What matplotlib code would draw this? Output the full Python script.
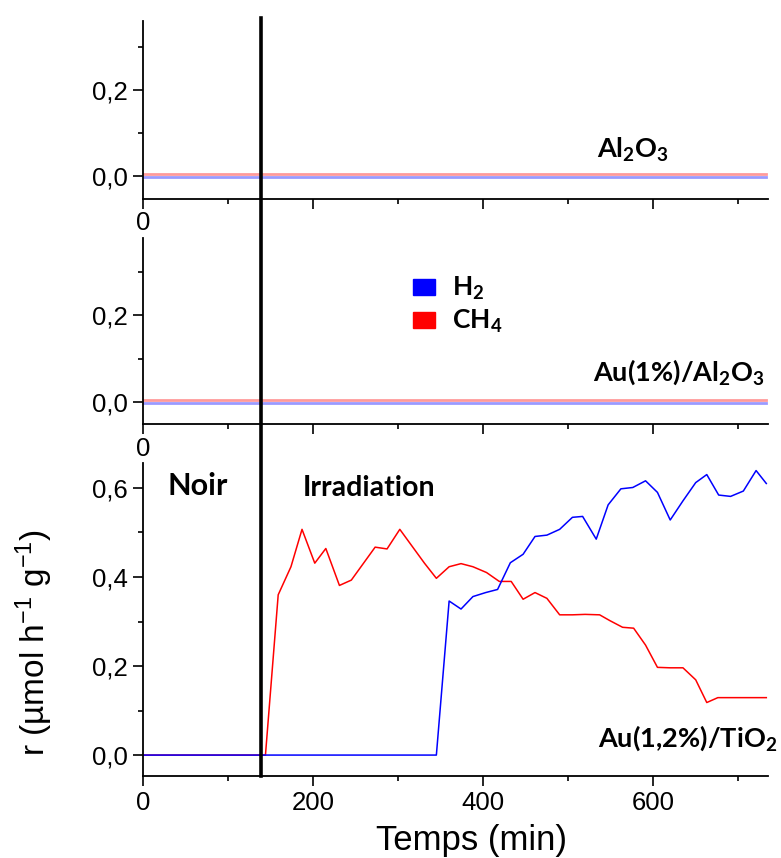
import numpy as np
import matplotlib.pyplot as plt
from matplotlib.patches import Patch
from matplotlib.ticker import MultipleLocator
import matplotlib.transforms as mtransforms

plt.rcParams['font.family'] = ['Liberation Sans', 'DejaVu Sans']
plt.rcParams['mathtext.default'] = 'regular'

# Au(1,2%)/TiO2 : vitesse de production (umol h-1 g-1) vs temps (min)
t_h2 = [0, 345, 360, 374, 388, 403, 417, 432, 447, 461, 475, 490, 505, 517, 533,
        547, 562, 576, 591, 605, 620, 635, 650, 663, 677, 691, 706, 721, 733]
r_h2 = [0, 0, 0.346, 0.328, 0.356, 0.365, 0.372, 0.432, 0.451, 0.491, 0.494, 0.507,
        0.534, 0.536, 0.485, 0.562, 0.598, 0.601, 0.616, 0.590, 0.528, 0.571, 0.612,
        0.630, 0.584, 0.581, 0.593, 0.639, 0.610]

t_ch4 = [0, 144, 159, 174, 187, 202, 215, 231, 245, 273, 287, 302, 331, 345, 360,
         374, 388, 404, 419, 433, 447, 461, 475, 490, 505, 520, 537, 549, 564, 577,
         591, 605, 620, 635, 650, 663, 676, 691, 706, 721, 733]
r_ch4 = [0, 0, 0.360, 0.423, 0.507, 0.431, 0.464, 0.381, 0.393, 0.467, 0.463, 0.507,
         0.431, 0.397, 0.423, 0.430, 0.423, 0.410, 0.390, 0.390, 0.350, 0.365, 0.352,
         0.315, 0.315, 0.316, 0.315, 0.302, 0.287, 0.285, 0.247, 0.197, 0.196, 0.196,
         0.169, 0.118, 0.129, 0.129, 0.129, 0.129, 0.129]

# Al2O3 et Au(1%)/Al2O3 : aucune production
t_zero = [0, 733]
r_zero = [0, 0]

t_irr = 139  # debut de l'irradiation

fig = plt.figure(figsize=(7.81, 8.58), dpi=100)
W = 781.0
H = 858.0

def px_axes(x0, y0, x1, y1):
    return fig.add_axes([x0 / W, (H - y1) / H, (x1 - x0) / W, (y1 - y0) / H])

ax1 = px_axes(143, 21, 768, 199)
ax2 = px_axes(143, 238, 768, 424)
ax3 = px_axes(143, 463, 768, 776)

lims = [(-0.053, 0.36), (-0.05, 0.377), (-0.047, 0.656)]
for ax, yl in zip([ax1, ax2, ax3], lims):
    ax.set_xlim(0, 735)
    ax.set_ylim(*yl)
    ax.spines['top'].set_visible(False)
    ax.spines['right'].set_visible(False)
    ax.spines['left'].set_linewidth(1.3)
    ax.spines['bottom'].set_linewidth(1.3)
    ax.xaxis.set_major_locator(MultipleLocator(200))
    ax.xaxis.set_minor_locator(MultipleLocator(100))
    ax.yaxis.set_major_locator(MultipleLocator(0.2))
    ax.yaxis.set_minor_locator(MultipleLocator(0.1))
    ax.tick_params(which='major', length=7, width=1.2, labelsize=18.5, pad=4)
    ax.tick_params(which='minor', length=3.6, width=1.2)
    ax.yaxis.set_major_formatter(plt.FuncFormatter(lambda v, p: f'{v:.1f}'.replace('.', ',')))

for ax in [ax1, ax2]:
    ax.xaxis.set_major_formatter(plt.FuncFormatter(lambda v, p: '0' if v == 0 else ''))
    ax.tick_params(axis='x', pad=2)
    ax.plot(t_zero, np.array(r_zero) + 0.004, color='#ff9a9a', lw=2)
    ax.plot(t_zero, np.array(r_zero) - 0.002, color='#9a9aff', lw=2)

ax3.plot(t_ch4, r_ch4, color='red', lw=1.1)
ax3.plot(t_h2, r_h2, color='blue', lw=1.1)
ax3.set_xlabel('Temps (min)', fontsize=25)
ax3.xaxis.set_label_coords(0.525, -0.152)
ax3.set_ylabel('r (µmol h$^{-1}$ g$^{-1}$)', fontsize=24)
ax3.yaxis.set_label_coords(-0.141, 0.428)

# ligne verticale : debut irradiation
tr = mtransforms.blended_transform_factory(ax3.transData, fig.transFigure)
fig.add_artist(plt.Line2D([t_irr, t_irr], [(H - 18) / H, (H - 776) / H],
                          transform=tr, color='black', lw=2.6))

lab = dict(family=['Lato', 'DejaVu Sans'], fontweight='bold', fontsize=19.5)
ax1.text(633 / W, (H - 150) / H, 'Al$_2$O$_3$', transform=fig.transFigure,
         ha='center', va='center', **lab)
ax2.text(765 / W, (H - 372) / H, 'Au(1%)/Al$_2$O$_3$', transform=fig.transFigure,
         ha='right', va='center', **lab)
ax3.text(777 / W, (H - 738) / H, 'Au(1,2%)/TiO$_2$', transform=fig.transFigure,
         ha='right', va='center', **lab)
ax3.text(167 / W, (H - 486) / H, 'Noir', transform=fig.transFigure,
         ha='left', va='center', **{**lab, 'fontsize': 22})
ax3.text(303 / W, (H - 488) / H, 'Irradiation', transform=fig.transFigure,
         ha='left', va='center', **{**lab, 'fontsize': 20.5})

handles = [Patch(color='blue', label='H$_2$'), Patch(color='red', label='CH$_4$')]
leg = fig.legend(handles=handles, loc='upper left', bbox_to_anchor=(392 / W, (H - 254) / H),
                 frameon=False, handlelength=0.83, handleheight=0.57, handletextpad=0.65,
                 labelspacing=0.22, borderpad=0.3,
                 prop={'family': ['Lato', 'DejaVu Sans'], 'weight': 'bold', 'size': 19})

plt.savefig('out.png', dpi=100)
